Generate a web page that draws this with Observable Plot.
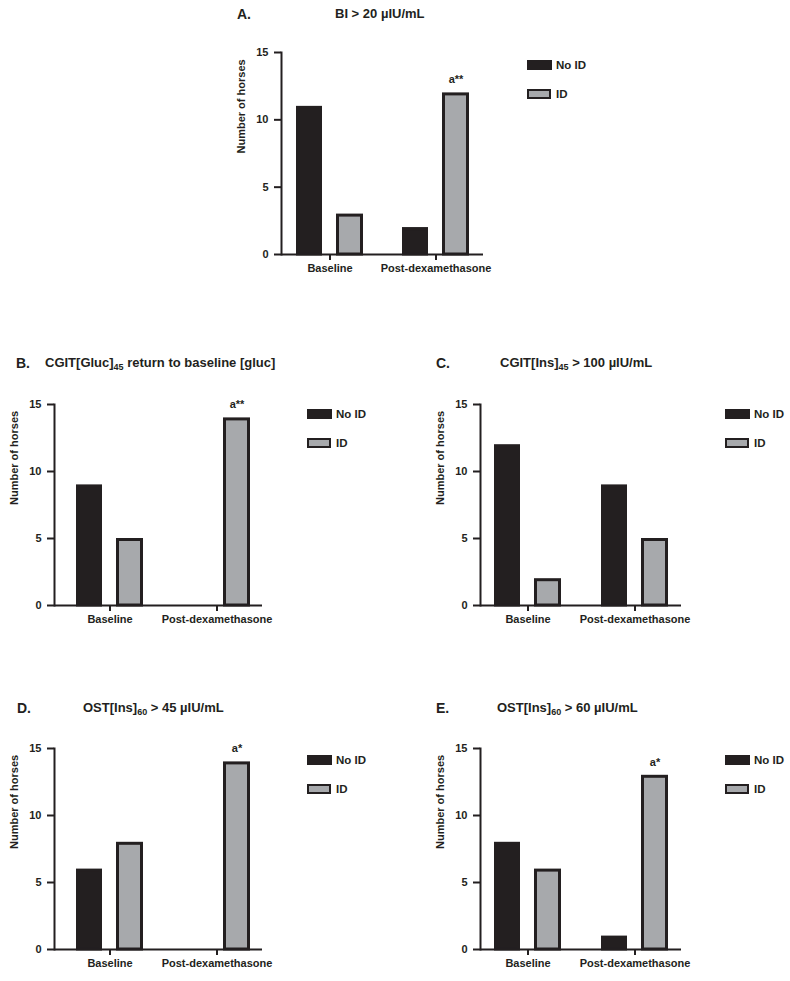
<!DOCTYPE html>
<html><head><meta charset="utf-8">
<script src="https://cdn.jsdelivr.net/npm/d3@7"></script>
<script src="https://cdn.jsdelivr.net/npm/@observablehq/plot@0.6"></script>
<style>
body{margin:0;background:#fff;}
#fig{position:relative;width:790px;height:981px;background:#fff;font-family:"Liberation Sans",Arial,Helvetica,sans-serif;font-weight:bold;color:#231f20;overflow:hidden}
.abs{position:absolute;white-space:nowrap}
.ttl{font-size:13px;line-height:16px}
.let{font-size:14px;line-height:16px}
.sub{font-size:9px;position:relative;top:3px}
.lg{font-size:11.5px;line-height:12px}
.sw{position:absolute;box-sizing:border-box;width:25px;height:10px}
</style></head><body><div id="fig"></div>
<script>
const panelIds = ["A","B","C","D","E"];
const timepoints = ["Baseline","Post-dexamethasone"];
const seriesNames = ["No ID","ID"];
const noIdBaseline = [11, 9, 12, 6, 8];
const idBaseline   = [3, 5, 2, 8, 6];
const noIdPost     = [2, 0, 9, 0, 1];
const idPost       = [12, 14, 5, 14, 13];
const sigLabels    = ["a**","a**","","a*","a*"];
const yTicks = [0, 5, 10, 15];
const titleMain = ["BI", "CGIT[Gluc]", "CGIT[Ins]", "OST[Ins]", "OST[Ins]"];
const titleSub  = ["", "45", "45", "60", "60"];
const titleRest = [" > 20 \u00b5IU/mL", " return to baseline [gluc]", " > 100 \u00b5IU/mL", " > 45 \u00b5IU/mL", " > 60 \u00b5IU/mL"];
const yLabel = "Number of horses";

const DARK = "#231f20", GREY = "#a7a9ac";

const layout = [
 {axisX:281, y15:52,  y0:254, c1:329.5, c2:436,   frameW:202, legX:527, legY:60,  letX:237, txtX:335, tY:14},
 {axisX:54,  y15:404, y0:605, c1:109,   c2:216,   frameW:208, legX:307, legY:409, letX:16,  txtX:45,  tY:363},
 {axisX:480, y15:404, y0:605, c1:527,   c2:634.5, frameW:201, legX:725, legY:409, letX:436, txtX:500, tY:363},
 {axisX:54,  y15:748, y0:949, c1:109,   c2:216,   frameW:208, legX:307, legY:755, letX:17,  txtX:83,  tY:708},
 {axisX:480, y15:748, y0:949, c1:527,   c2:634.5, frameW:201, legX:725, legY:755, letX:436, txtX:497, tY:708}
];

const fig = document.getElementById("fig");

function addDiv(cls, left, top, html) {
  const d = document.createElement("div");
  d.className = cls;
  d.style.left = left + "px";
  d.style.top = top + "px";
  if (html !== undefined) d.textContent = html;
  fig.appendChild(d);
  return d;
}

panelIds.forEach((pid, i) => {
  const L = layout[i];
  const rows = [
    {time: timepoints[0], series: seriesNames[0], value: noIdBaseline[i]},
    {time: timepoints[0], series: seriesNames[1], value: idBaseline[i]},
    {time: timepoints[1], series: seriesNames[0], value: noIdPost[i]},
    {time: timepoints[1], series: seriesNames[1], value: idPost[i]}
  ];
  const ann = sigLabels[i] ? [{time: timepoints[1], value: idPost[i], label: sigLabels[i]}] : [];

  const mL = 60, mT = 30, mB = 35, mR = 10;
  const plotH = L.y0 - L.y15;
  const width = mL + L.frameW + mR;
  const height = mT + plotH + mB;
  const bw = 67;
  const p1 = L.c1 - L.axisX + mL, p2 = L.c2 - L.axisX + mL;

  const svg = Plot.plot({
    width, height,
    marginLeft: mL, marginTop: mT, marginBottom: mB, marginRight: mR,
    style: {background: "none", fontFamily: "'Liberation Sans', Arial, Helvetica, sans-serif", fontWeight: "bold", fontSize: "11px", color: DARK, overflow: "visible"},
    x: {domain: timepoints, range: [p1 - bw/2, p2 + bw/2], paddingInner: 1 - bw/(p2 - p1), paddingOuter: 0, align: 0.5, label: null},
    y: {domain: [0, 15], label: null},
    marks: [
      Plot.barY(rows.filter(d => d.series === seriesNames[0] && d.value > 0), {x: "time", y: "value", fill: DARK, stroke: DARK, strokeWidth: 3, insetLeft: 1.5, insetRight: 42.5, insetTop: 1.5}),
      Plot.barY(rows.filter(d => d.series === seriesNames[1] && d.value > 0), {x: "time", y: "value", fill: GREY, stroke: DARK, strokeWidth: 3, insetLeft: 41.5, insetRight: 1.5, insetTop: 1.5}),
      Plot.ruleY([0], {stroke: DARK, strokeWidth: 2}),
      Plot.frame({anchor: "left", stroke: DARK, strokeWidth: 2}),
      Plot.axisY({ticks: yTicks, tickSize: 7, tickPadding: 6, label: null, strokeWidth: 2, fontSize: 11}),
      Plot.axisX({tickSize: 6, tickPadding: 4, label: null, strokeWidth: 2, fontSize: 11}),
      Plot.text([yLabel], {text: d => d, frameAnchor: "left", rotate: -90, dx: -40, fontSize: 11, fill: DARK}),
      Plot.text(ann, {x: "time", y: "value", text: "label", dx: 20, dy: -13, fontSize: 11, fill: DARK})
    ]
  });
  svg.style.position = "absolute";
  svg.style.left = (L.axisX - mL) + "px";
  svg.style.top = (L.y15 - mT) + "px";
  svg.style.maxWidth = "none";
  fig.appendChild(svg);

  // titles
  addDiv("abs let", L.letX, L.tY - 8, pid + ".");
  const t = addDiv("abs ttl", L.txtX, L.tY - 8);
  t.appendChild(document.createTextNode(titleMain[i]));
  if (titleSub[i]) {
    const s = document.createElement("span");
    s.className = "sub";
    s.textContent = titleSub[i];
    t.appendChild(s);
  }
  t.appendChild(document.createTextNode(titleRest[i]));

  // legend
  seriesNames.forEach((name, k) => {
    const y = L.legY + k * 29;
    const sw = addDiv("sw", L.legX, y);
    if (k === 0) { sw.style.background = DARK; }
    else { sw.style.background = GREY; sw.style.border = "2.5px solid " + DARK; sw.style.width = "24px"; }
    addDiv("abs lg", L.legX + 29, y - 1, name);
  });
});
</script>
</body></html>
